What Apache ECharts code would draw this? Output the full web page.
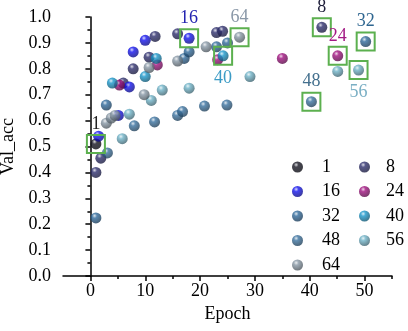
<!DOCTYPE html>
<html>
<head>
<meta charset="utf-8">
<script src="https://cdn.jsdelivr.net/npm/echarts@6/dist/echarts.min.js"></script>
<style>
  html, body { margin: 0; padding: 0; background: #fff; }
  #chart { width: 408px; height: 331px; }
</style>
</head>
<body>
<div id="chart"></div>
<script>
// batch sizes and [epoch, val_acc] points
var batchSizes = ['1', '8', '16', '24', '32', '40', '48', '56', '64']
var bs1 = [[1, 0.51]]
var bs8 = [[1, 0.40], [1.9, 0.455], [6, 0.745], [7.8, 0.80], [10.7, 0.845], [11.8, 0.925], [15.9, 0.935], [23, 0.94], [24.1, 0.945], [42.2, 0.96]]
var bs16 = [[1.5, 0.54], [5.1, 0.62], [7.1, 0.73], [7.8, 0.865], [10, 0.91], [18, 0.918]]
var bs24 = [[5.3, 0.737], [12.2, 0.815], [23.2, 0.835], [35, 0.84], [45.1, 0.85]]
var bs32 = [[1, 0.224], [2.9, 0.66], [17.1, 0.84], [18, 0.865], [23, 0.885], [25, 0.90], [50.2, 0.905]]
var bs40 = [[4, 0.745], [10, 0.77], [12, 0.84], [24.2, 0.85]]
var bs48 = [[3.1, 0.475], [8, 0.58], [11.7, 0.595], [15.9, 0.62], [16.8, 0.635], [20.8, 0.656], [24.9, 0.66], [40.3, 0.673]]
var bs56 = [[5.8, 0.53], [7.1, 0.625], [11.1, 0.678], [13.1, 0.718], [18, 0.725], [29.1, 0.77], [45.1, 0.79], [48.9, 0.795]]
var bs64 = [[2.9, 0.59], [3.8, 0.61], [4.5, 0.62], [9.8, 0.70], [10.7, 0.805], [15.9, 0.83], [21.1, 0.885], [27.2, 0.922]]
var seriesData = [bs1, bs8, bs16, bs24, bs32, bs40, bs48, bs56, bs64]
// index of the boxed (final) point in each series
var bestIndex = [0, 9, 5, 4, 6, 3, 7, 7, 7]
var labelBelow = ['40', '56']

var xTicks = [0, 10, 20, 30, 40, 50]
var xMinorTicks = [5, 15, 25, 35, 45, 55]

var baseColors = ['#151522', '#2e2f6e', '#1414f0', '#a0107f', '#2f6a9c', '#1a98cc', '#3a72a0', '#6fb3c8', '#8898a6']
var labelColors = ['#222222', '#1e1e3a', '#2323b0', '#a31a85', '#2f6690', '#3b9bc5', '#44708e', '#7aafc4', '#8a98a8']

var serif = '"Liberation Serif", "Times New Roman", serif'

function mix (c, t, k) {
  var a = parseInt(c.slice(1), 16)
  var b = parseInt(t.slice(1), 16)
  var r = Math.round(((a >> 16) & 255) * (1 - k) + ((b >> 16) & 255) * k)
  var g = Math.round(((a >> 8) & 255) * (1 - k) + ((b >> 8) & 255) * k)
  var bl = Math.round((a & 255) * (1 - k) + (b & 255) * k)
  return 'rgb(' + r + ',' + g + ',' + bl + ')'
}

function sphere (c) {
  return {
    type: 'radial',
    x: 0.38,
    y: 0.3,
    r: 0.72,
    colorStops: [
      { offset: 0, color: mix(c, '#ffffff', 0.8) },
      { offset: 0.3, color: c },
      { offset: 1, color: mix(c, '#000000', 0.45) }
    ]
  }
}

var series = batchSizes.map(function (name, i) {
  var pts = seriesData[i]
  var below = labelBelow.indexOf(name) >= 0
  return {
    name: name,
    type: 'scatter',
    symbol: 'circle',
    symbolSize: 11,
    itemStyle: { color: sphere(baseColors[i]) },
    data: pts,
    markPoint: {
      symbol: 'rect',
      symbolSize: 18,
      silent: true,
      itemStyle: { color: 'rgba(0,0,0,0)', borderColor: '#5cb04f', borderWidth: 2 },
      label: {
        show: true,
        position: below ? 'bottom' : 'top',
        distance: below ? 3 : 1,
        formatter: name,
        color: labelColors[i],
        fontFamily: serif,
        fontSize: 18
      },
      data: [{ coord: pts[bestIndex[i]] }]
    }
  }
})

var legendText = { fontFamily: serif, fontSize: 18, color: '#000', lineHeight: 16 }

var myChart = echarts.init(document.getElementById('chart'))
var option = {
  animation: false,
  grid: { left: 63, right: 16, top: 17, bottom: 55, outerBoundsMode: 'none' },
  legend: [
    {
      data: ['1', '16', '32', '48', '64'],
      orient: 'vertical',
      left: 287,
      top: 153,
      icon: 'circle',
      itemWidth: 11,
      itemHeight: 11,
      itemGap: 6.5,
      selectedMode: false,
      textStyle: Object.assign({ padding: [0, 0, 0, 14] }, legendText)
    },
    {
      data: ['8', '24', '40', '56'],
      orient: 'vertical',
      left: 354,
      top: 153,
      icon: 'circle',
      itemWidth: 11,
      itemHeight: 11,
      itemGap: 6.5,
      selectedMode: false,
      textStyle: Object.assign({ padding: [0, 0, 0, 11] }, legendText)
    }
  ],
  xAxis: [
    {
      type: 'value',
      min: -5,
      max: 55,
      name: 'Epoch',
      nameLocation: 'middle',
      nameGap: 28,
      nameTextStyle: { fontFamily: serif, fontSize: 18, color: '#000' },
      axisLine: { lineStyle: { color: '#000', width: 1.5 } },
      axisTick: { customValues: xTicks, length: 5, lineStyle: { color: '#000', width: 1.5 } },
      axisLabel: { customValues: xTicks, margin: 6, fontFamily: serif, fontSize: 18, color: '#000' },
      splitLine: { show: false }
    },
    {
      // minor ticks only
      type: 'value',
      min: -5,
      max: 55,
      position: 'bottom',
      axisLine: { show: false },
      axisTick: { customValues: xMinorTicks, length: 3, lineStyle: { color: '#000', width: 1.5 } },
      axisLabel: { show: false },
      splitLine: { show: false }
    }
  ],
  yAxis: {
    type: 'value',
    min: 0,
    max: 1,
    interval: 0.1,
    name: 'Val_acc',
    nameLocation: 'middle',
    nameGap: 41,
    nameTextStyle: { fontFamily: serif, fontSize: 18, color: '#000' },
    axisLine: { show: true, lineStyle: { color: '#000', width: 1.5 } },
    axisTick: { show: true, length: 5, lineStyle: { color: '#000', width: 1.5 } },
    minorTick: { show: true, splitNumber: 2, length: 3, lineStyle: { color: '#000', width: 1.5 } },
    axisLabel: {
      margin: 12,
      fontFamily: serif,
      fontSize: 18,
      color: '#000',
      formatter: function (v) { return v.toFixed(1) }
    },
    splitLine: { show: false }
  },
  series: series
}
myChart.setOption(option)
</script>
</body>
</html>
